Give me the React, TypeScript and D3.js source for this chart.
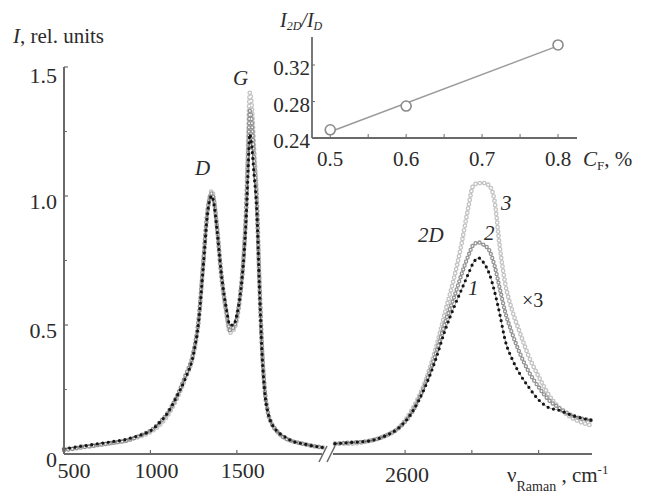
import React from "react";
import * as d3 from "d3";

// Raman spectra, left part (D and G bands), wavenumber in cm^-1
const leftWavenumbers = [
  500, 550, 600, 650, 700, 750, 800, 850, 900, 950, 1000, 1050, 1100, 1150,
  1200, 1250, 1280, 1305, 1330, 1345, 1355, 1365, 1385, 1410, 1440, 1460,
  1480, 1500, 1520, 1540, 1555, 1565, 1575, 1585, 1600, 1615, 1630, 1645,
  1660, 1680, 1700, 1730, 1770, 1820, 1880, 1950, 2000,
];
const leftSeries1 = [
  0.02, 0.025, 0.03, 0.035, 0.04, 0.045, 0.05, 0.055, 0.065, 0.075, 0.09,
  0.12, 0.16, 0.22, 0.29, 0.39, 0.52, 0.72, 0.93, 0.99, 1.0, 0.98, 0.87, 0.7,
  0.56, 0.5, 0.5, 0.54, 0.62, 0.76, 0.93, 1.1, 1.24, 1.2, 1.08, 0.95, 0.66,
  0.4, 0.25, 0.16, 0.12, 0.09, 0.07, 0.05, 0.04, 0.03, 0.025,
];
const leftSeries2 = [
  0.015, 0.02, 0.025, 0.03, 0.035, 0.04, 0.045, 0.05, 0.06, 0.075, 0.09,
  0.12, 0.16, 0.22, 0.3, 0.4, 0.53, 0.74, 0.94, 1.0, 1.01, 0.99, 0.88, 0.7,
  0.55, 0.48, 0.49, 0.53, 0.62, 0.77, 0.96, 1.16, 1.33, 1.3, 1.14, 0.98,
  0.68, 0.42, 0.26, 0.16, 0.12, 0.09, 0.065, 0.05, 0.04, 0.03, 0.025,
];
const leftSeries3 = [
  0.02, 0.02, 0.03, 0.03, 0.035, 0.04, 0.045, 0.05, 0.06, 0.07, 0.085, 0.11,
  0.15, 0.21, 0.29, 0.39, 0.52, 0.73, 0.94, 1.0, 1.02, 1.0, 0.88, 0.69, 0.54,
  0.47, 0.48, 0.52, 0.62, 0.78, 0.98, 1.2, 1.4, 1.36, 1.18, 1.0, 0.68, 0.42,
  0.26, 0.16, 0.12, 0.09, 0.065, 0.05, 0.04, 0.03, 0.025,
];

// right part (2D band, x3)
const rightWavenumbers = [
  2495, 2520, 2545, 2570, 2590, 2610, 2630, 2645, 2660, 2675, 2685, 2695,
  2702, 2710, 2718, 2726, 2734, 2742, 2750, 2760, 2772, 2785, 2800, 2815,
  2830, 2850, 2880,
];
const rightSeries1 = [
  0.04, 0.045, 0.05, 0.07, 0.1, 0.16, 0.26, 0.36, 0.48, 0.58, 0.64, 0.7,
  0.74, 0.76, 0.74, 0.7, 0.63, 0.54, 0.44, 0.37, 0.31, 0.26, 0.21, 0.18,
  0.17, 0.15, 0.13,
];
const rightSeries2 = [
  0.04, 0.045, 0.05, 0.07, 0.1, 0.16, 0.27, 0.38, 0.51, 0.62, 0.7, 0.77,
  0.81, 0.82, 0.81, 0.79, 0.73, 0.64, 0.55, 0.47, 0.39, 0.32, 0.26, 0.21,
  0.18, 0.15, 0.13,
];
const rightSeries3 = [
  0.04, 0.04, 0.05, 0.07, 0.1, 0.17, 0.28, 0.4, 0.55, 0.7, 0.82, 0.96, 1.04,
  1.05, 1.05, 1.04, 0.98, 0.8, 0.66, 0.56, 0.47, 0.38, 0.3, 0.23, 0.18,
  0.14, 0.11,
];

const yTicks = [0, 0.5, 1.0, 1.5];
const yTickLabels = ["0", "0.5", "1.0", "1.5"];
const yMinorTicks = [0.25, 0.75, 1.25];
const leftXTicks = [500, 1000, 1500];
const rightXTicks = [2600, 2700, 2800];
const rightXTickLabels = ["2600", "", ""];

// inset: I2D/ID vs fluorine concentration
const insetConc = [0.5, 0.6, 0.8];
const insetRatio = [0.249, 0.275, 0.342];
const insetXTicks = [0.5, 0.55, 0.6, 0.65, 0.7, 0.75, 0.8];
const insetXLabels = ["0.5", "0.6", "0.7", "0.8"];
const insetYTicks = [0.24, 0.28, 0.32];

const FONT = "'Liberation Serif', 'Times New Roman', serif";
const AXIS = "#6a6a6a";
const TEXT = "#2b2b2b";

const x1 = d3.scaleLinear().domain([500, 2010]).range([64, 325]);
const x2 = d3.scaleLinear().domain([2495, 2880]).range([335, 592]);
const y = d3.scaleLinear().domain([0, 1.5]).range([454, 67]);

const ix = d3.scaleLinear().domain([0.476, 0.825]).range([312, 577]);
const iy = d3.scaleLinear().domain([0.24, 0.3507]).range([138, 37]);

const styles = [
  { color: "#c3c3c3", ring: true, w: 4.8, gap: 4.4 },
  { color: "#939393", ring: true, w: 4.4, gap: 4.2 },
  { color: "#151515", ring: false, w: 3.2, gap: 5.6 },
];

function Dotted({ d, s }: { d: string; s: any }) {
  return (
    <g>
      <path d={d} fill="none" stroke={s.color} strokeWidth={0.8} opacity={0.5} />
      <path
        d={d}
        fill="none"
        stroke={s.color}
        strokeWidth={s.w}
        strokeDasharray={`0 ${s.gap}`}
        strokeLinecap="round"
      />
      {s.ring && (
        <path
          d={d}
          fill="none"
          stroke="#fff"
          strokeWidth={s.w - 2.6}
          strokeDasharray={`0 ${s.gap}`}
          strokeLinecap="round"
        />
      )}
    </g>
  );
}

export default function App() {
  const lineL = d3
    .line<number>()
    .x((_, i) => x1(leftWavenumbers[i]))
    .y((v) => y(v))
    .curve(d3.curveMonotoneX);
  const lineR = d3
    .line<number>()
    .x((_, i) => x2(rightWavenumbers[i]))
    .y((v) => y(v))
    .curve(d3.curveMonotoneX);

  const left = [leftSeries3, leftSeries2, leftSeries1];
  const right = [rightSeries3, rightSeries2, rightSeries1];

  // least squares trend line for the inset
  const mx = d3.mean(insetConc)!;
  const my = d3.mean(insetRatio)!;
  const slope =
    d3.sum(insetConc.map((c, i) => (c - mx) * (insetRatio[i] - my))) /
    d3.sum(insetConc.map((c) => (c - mx) ** 2));
  const fit = (c: number) => my + slope * (c - mx);
  const c0 = insetConc[0];
  const c1 = insetConc[insetConc.length - 1];

  return (
    <svg
      width={647}
      height={494}
      style={{ position: "absolute", left: 0, top: 0, background: "#fff" }}
      fontFamily={FONT}
    >
      <rect width={647} height={494} fill="#fff" />

      {/* spectra */}
      {left.map((s, k) => (
        <Dotted key={"l" + k} d={lineL(s)!} s={styles[k]} />
      ))}
      {right.map((s, k) => (
        <Dotted key={"r" + k} d={lineR(s)!} s={styles[k]} />
      ))}

      {/* main axes */}
      <line x1={x1(500)} x2={x1(500)} y1={y(1.5)} y2={y(0)} stroke={AXIS} strokeWidth={2} />
      <line x1={x1(500)} x2={322} y1={y(0)} y2={y(0)} stroke={AXIS} strokeWidth={2} />
      <line x1={333} x2={x2(2880)} y1={y(0)} y2={y(0)} stroke={AXIS} strokeWidth={2} />
      <line x1={319} y1={462} x2={327} y2={446} stroke={AXIS} strokeWidth={1.5} />
      <line x1={327} y1={462} x2={335} y2={446} stroke={AXIS} strokeWidth={1.5} />

      {yTicks.map((t, i) => (
        <g key={"yt" + i}>
          <line x1={x1(500)} x2={x1(500) + 4} y1={y(t)} y2={y(t)} stroke={AXIS} strokeWidth={1.2} />
          <text x={57} y={y(t) + (t === 1.5 ? 16 : 13)} textAnchor="end" fontSize={22} fill={TEXT}>
            {yTickLabels[i]}
          </text>
        </g>
      ))}
      {yMinorTicks.map((t) => (
        <line key={"ym" + t} x1={x1(500)} x2={x1(500) + 3} y1={y(t)} y2={y(t)} stroke={AXIS} strokeWidth={1} />
      ))}
      {leftXTicks.map((t) => (
        <g key={"xl" + t}>
          <line x1={x1(t)} x2={x1(t)} y1={y(0)} y2={y(0) - 4} stroke={AXIS} strokeWidth={1.2} />
          <text x={x1(t) + (t === 500 ? 10 : 6)} y={478} textAnchor="middle" fontSize={22} fill={TEXT}>
            {t}
          </text>
        </g>
      ))}
      {rightXTicks.map((t, i) => (
        <g key={"xr" + t}>
          <line x1={x2(t)} x2={x2(t)} y1={y(0)} y2={y(0) - 4} stroke={AXIS} strokeWidth={1.2} />
          <text x={x2(t) + 2} y={482} textAnchor="middle" fontSize={22} fill={TEXT}>
            {rightXTickLabels[i]}
          </text>
        </g>
      ))}

      {/* axis titles */}
      <text x={13} y={43} fontSize={21} fill={TEXT}>
        <tspan fontStyle="italic">I</tspan>, rel. units
      </text>
      <text x={507} y={482} fontSize={21} fill={TEXT}>
        ν
        <tspan fontSize={14} dy={9}>Raman</tspan>
        <tspan dy={-9}> , cm</tspan>
        <tspan fontSize={13} dy={-8}>-1</tspan>
      </text>

      {/* band labels */}
      <g fontStyle="italic" fontSize={21} fill={TEXT}>
        <text x={195} y={175}>D</text>
        <text x={233} y={85}>G</text>
        <text x={418} y={242}>2D</text>
        <text x={484} y={240}>2</text>
        <text x={501} y={210}>3</text>
        <text x={468} y={295}>1</text>
      </g>
      <text x={522} y={307} fontSize={20} fill={TEXT}>×3</text>

      {/* inset */}
      <line x1={ix(c0)} y1={iy(fit(c0))} x2={ix(c1)} y2={iy(fit(c1))} stroke="#9a9a9a" strokeWidth={1.5} />
      <line x1={312} x2={312} y1={37} y2={138} stroke={AXIS} strokeWidth={1.8} />
      <line x1={312} x2={577} y1={138} y2={138} stroke={AXIS} strokeWidth={1.8} />
      {insetXTicks.map((t) => (
        <line key={"ixt" + t} x1={ix(t)} x2={ix(t)} y1={138} y2={134} stroke={AXIS} strokeWidth={1} />
      ))}
      {insetXLabels.map((t) => (
        <text key={"ixl" + t} x={ix(+t)} y={166} textAnchor="middle" fontSize={21} fill={TEXT}>
          {t}
        </text>
      ))}
      {insetYTicks.map((t) => (
        <g key={"iyt" + t}>
          <line x1={312} x2={315} y1={iy(t)} y2={iy(t)} stroke={AXIS} strokeWidth={1} />
          <text x={310} y={iy(t) + 10} textAnchor="end" fontSize={21} fill={TEXT}>
            {t.toFixed(2)}
          </text>
        </g>
      ))}
      {insetConc.map((c, i) => (
        <circle key={"ip" + i} cx={ix(c)} cy={iy(insetRatio[i])} r={5} fill="#fff" stroke="#8a8a8a" strokeWidth={1.6} />
      ))}
      <text x={280} y={27} fontSize={20} fill={TEXT} fontStyle="italic">
        I<tspan fontSize={12} dy={3}>2D</tspan>
        <tspan dy={-3}>/I</tspan>
        <tspan fontSize={12} dy={3}>D</tspan>
      </text>
      <text x={583} y={166} fontSize={21} fill={TEXT}>
        <tspan fontStyle="italic">C</tspan>
        <tspan fontSize={13} dy={4}>F</tspan>
        <tspan dy={-4}>, %</tspan>
      </text>
    </svg>
  );
}
